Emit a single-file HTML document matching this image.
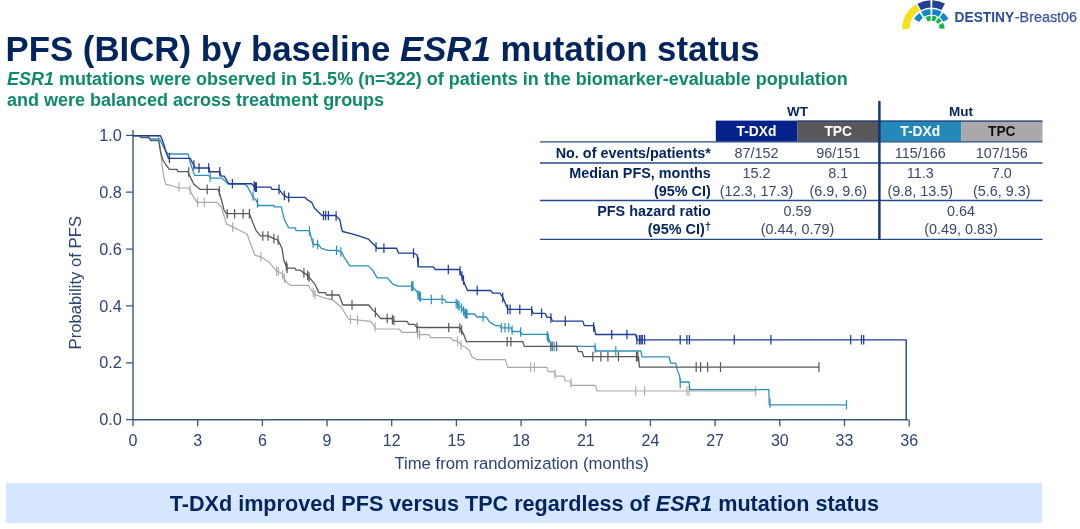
<!DOCTYPE html>
<html><head><meta charset="utf-8">
<style>
html,body{margin:0;padding:0;background:#fff;}
body{width:1080px;height:529px;position:relative;overflow:hidden;font-family:"Liberation Sans",Arial,sans-serif;}
#title{position:absolute;left:5.5px;top:29px;font-size:34.8px;font-weight:bold;color:#04245e;white-space:nowrap;line-height:40px;}
#sub{position:absolute;left:7px;top:69px;font-size:18px;font-weight:bold;color:#0e8a6c;white-space:nowrap;line-height:20.5px;}
#banner{position:absolute;left:6.3px;top:482.6px;width:1036.2px;height:40.6px;background:#d5e6fe;}
#bannertxt{position:absolute;left:6.3px;top:483.4px;width:1036.2px;height:41px;line-height:41px;text-align:center;font-size:21.6px;font-weight:bold;color:#04245e;white-space:nowrap;}
svg{position:absolute;left:0;top:0;font-family:"Liberation Sans",Arial,sans-serif;}
</style></head><body>
<div id="title">PFS (BICR) by baseline <i>ESR1</i> mutation status</div>
<div id="sub"><i>ESR1</i> mutations were observed in 51.5% (n=322) of patients in the biomarker-evaluable population<br>and were balanced across treatment groups</div>
<div id="banner"></div>
<div id="bannertxt">T-DXd improved PFS versus TPC regardless of <i>ESR1</i> mutation status</div>
<svg id="chart" width="1080" height="529" viewBox="0 0 1080 529">
<g id="logo">
<path d="M902.20 29.00A29.20 29.20 0 0 1 915.93 4.24L919.74 10.34A22.00 22.00 0 0 0 909.40 29.00Z" fill="#f7de1a"/>
<path d="M917.44 3.81A28.80 28.80 0 0 1 930.39 0.22L930.65 7.61A21.40 21.40 0 0 0 921.03 10.28ZM932.41 0.22A28.80 28.80 0 0 1 944.92 3.57L941.45 10.10A21.40 21.40 0 0 0 932.15 7.61Z" fill="#233f96"/>
<path d="M914.08 19.00A20.00 20.00 0 0 1 919.36 13.03L922.85 17.66A14.20 14.20 0 0 0 919.10 21.90ZM921.10 11.86A20.00 20.00 0 0 1 930.35 9.03L930.66 14.82A14.20 14.20 0 0 0 924.09 16.83ZM932.45 9.03A20.00 20.00 0 0 1 941.70 11.86L938.71 16.83A14.20 14.20 0 0 0 932.14 14.82ZM943.16 12.82A20.00 20.00 0 0 1 948.54 18.70L943.57 21.69A14.20 14.20 0 0 0 939.75 17.51Z" fill="#1186c8"/>
<path d="M925.61 17.14A13.20 13.20 0 0 1 930.48 15.83L930.83 20.82A8.20 8.20 0 0 0 927.81 21.63ZM932.32 15.83A13.20 13.20 0 0 1 936.77 16.94L934.74 21.51A8.20 8.20 0 0 0 931.97 20.82ZM938.39 17.81A13.20 13.20 0 0 1 941.80 20.87L937.86 23.95A8.20 8.20 0 0 0 935.75 22.05ZM943.05 22.80A13.20 13.20 0 0 1 944.59 28.54L939.60 28.71A8.20 8.20 0 0 0 938.64 25.15Z" fill="#16b24b"/>
<text x="954.6" y="22" font-size="14.6" font-weight="bold" fill="#2a4a9c" textLength="59.6" lengthAdjust="spacingAndGlyphs">DESTINY</text>
<text x="1014.8" y="22" font-size="14.6" fill="#3a55a0" stroke="#3a55a0" stroke-width="0.25" textLength="62.3" lengthAdjust="spacingAndGlyphs">-Breast06</text>
</g>
<g id="table">
<rect x="715.8" y="120.6" width="81.4" height="21" fill="#05228a"/>
<rect x="797.2" y="120.6" width="82" height="21" fill="#58585a"/>
<rect x="879.2" y="120.6" width="82" height="21" fill="#2688b9"/>
<rect x="961.2" y="120.6" width="81.3" height="21" fill="#a9a9a9"/>
<path d="M797.2 121.2H1042.5" stroke="#1f3f7a" stroke-width="1.2" fill="none"/>
<path d="M540 141.9H1042.5M540 163H1042.5M540 200.5H1042.5M540 239.3H1042.5" stroke="#274a86" stroke-width="1.3" fill="none"/>
<path d="M879.4 101V240" stroke="#14306e" stroke-width="2.4" fill="none"/>
<text x="797.5" y="116.3" font-size="13.5" text-anchor="middle" font-weight="bold" fill="#04245e">WT</text>
<text x="961.0" y="116.3" font-size="13.5" text-anchor="middle" font-weight="bold" fill="#04245e">Mut</text>
<text x="756.5" y="136.3" font-size="13.8" text-anchor="middle" font-weight="bold" fill="#fff">T-DXd</text>
<text x="838.2" y="136.3" font-size="13.8" text-anchor="middle" font-weight="bold" fill="#fff">TPC</text>
<text x="920.3" y="136.3" font-size="13.8" text-anchor="middle" font-weight="bold" fill="#fff">T-DXd</text>
<text x="1001.8" y="136.3" font-size="13.8" text-anchor="middle" font-weight="bold" fill="#111">TPC</text>
<text x="710.8" y="158.0" font-size="14.4" text-anchor="end" font-weight="bold" fill="#04245e">No. of events/patients*</text>
<text x="710.8" y="178.0" font-size="14.4" text-anchor="end" font-weight="bold" fill="#04245e">Median PFS, months</text>
<text x="710.8" y="195.7" font-size="14.4" text-anchor="end" font-weight="bold" fill="#04245e">(95% CI)</text>
<text x="710.8" y="216.4" font-size="14.4" text-anchor="end" font-weight="bold" fill="#04245e">PFS hazard ratio</text>
<text x="711.2" y="233.8" font-size="14.45" text-anchor="end" font-weight="bold" fill="#04245e">(95% CI)<tspan font-size="11.5" dy="-3.6">†</tspan></text>
<text x="756.5" y="158.0" font-size="14.4" text-anchor="middle" fill="#3b4a66">87/152</text>
<text x="756.5" y="178.0" font-size="14.4" text-anchor="middle" fill="#3b4a66">15.2</text>
<text x="756.5" y="195.7" font-size="14.4" text-anchor="middle" fill="#3b4a66">(12.3, 17.3)</text>
<text x="838.2" y="158.0" font-size="14.4" text-anchor="middle" fill="#3b4a66">96/151</text>
<text x="838.2" y="178.0" font-size="14.4" text-anchor="middle" fill="#3b4a66">8.1</text>
<text x="838.2" y="195.7" font-size="14.4" text-anchor="middle" fill="#3b4a66">(6.9, 9.6)</text>
<text x="920.3" y="158.0" font-size="14.4" text-anchor="middle" fill="#3b4a66">115/166</text>
<text x="920.3" y="178.0" font-size="14.4" text-anchor="middle" fill="#3b4a66">11.3</text>
<text x="920.3" y="195.7" font-size="14.4" text-anchor="middle" fill="#3b4a66">(9.8, 13.5)</text>
<text x="1001.8" y="158.0" font-size="14.4" text-anchor="middle" fill="#3b4a66">107/156</text>
<text x="1001.8" y="178.0" font-size="14.4" text-anchor="middle" fill="#3b4a66">7.0</text>
<text x="1001.8" y="195.7" font-size="14.4" text-anchor="middle" fill="#3b4a66">(5.6, 9.3)</text>
<text x="797.5" y="216.4" font-size="14.4" text-anchor="middle" fill="#3b4a66">0.59</text>
<text x="797.5" y="233.8" font-size="14.4" text-anchor="middle" fill="#3b4a66">(0.44, 0.79)</text>
<text x="961.0" y="216.4" font-size="14.4" text-anchor="middle" fill="#3b4a66">0.64</text>
<text x="961.0" y="233.8" font-size="14.4" text-anchor="middle" fill="#3b4a66">(0.49, 0.83)</text>
</g>
<g id="axes">
<path d="M133.0 130V419.7H908.3" fill="none" stroke="#3b5585" stroke-width="1.4"/>
<path d="M126 419.7H133.0M126 362.8H133.0M126 305.9H133.0M126 249.1H133.0M126 192.2H133.0M126 135.3H133.0M133.0 419.7V426.3M197.7 419.7V426.3M262.4 419.7V426.3M327.0 419.7V426.3M391.7 419.7V426.3M456.4 419.7V426.3M521.1 419.7V426.3M585.8 419.7V426.3M650.4 419.7V426.3M715.1 419.7V426.3M779.8 419.7V426.3M844.5 419.7V426.3M909.2 419.7V426.3" fill="none" stroke="#3b5585" stroke-width="1.3"/>
<text x="121.8" y="425.3" font-size="16.3" text-anchor="end" fill="#2c4474">0.0</text>
<text x="121.8" y="368.4" font-size="16.3" text-anchor="end" fill="#2c4474">0.2</text>
<text x="121.8" y="311.5" font-size="16.3" text-anchor="end" fill="#2c4474">0.4</text>
<text x="121.8" y="254.7" font-size="16.3" text-anchor="end" fill="#2c4474">0.6</text>
<text x="121.8" y="197.8" font-size="16.3" text-anchor="end" fill="#2c4474">0.8</text>
<text x="121.8" y="140.9" font-size="16.3" text-anchor="end" fill="#2c4474">1.0</text>
<text x="133.0" y="446" font-size="16" text-anchor="middle" fill="#2c4474">0</text>
<text x="197.7" y="446" font-size="16" text-anchor="middle" fill="#2c4474">3</text>
<text x="262.4" y="446" font-size="16" text-anchor="middle" fill="#2c4474">6</text>
<text x="327.0" y="446" font-size="16" text-anchor="middle" fill="#2c4474">9</text>
<text x="391.7" y="446" font-size="16" text-anchor="middle" fill="#2c4474">12</text>
<text x="456.4" y="446" font-size="16" text-anchor="middle" fill="#2c4474">15</text>
<text x="521.1" y="446" font-size="16" text-anchor="middle" fill="#2c4474">18</text>
<text x="585.8" y="446" font-size="16" text-anchor="middle" fill="#2c4474">21</text>
<text x="650.4" y="446" font-size="16" text-anchor="middle" fill="#2c4474">24</text>
<text x="715.1" y="446" font-size="16" text-anchor="middle" fill="#2c4474">27</text>
<text x="779.8" y="446" font-size="16" text-anchor="middle" fill="#2c4474">30</text>
<text x="844.5" y="446" font-size="16" text-anchor="middle" fill="#2c4474">33</text>
<text x="909.2" y="446" font-size="16" text-anchor="middle" fill="#2c4474">36</text>
<text x="521.6" y="468.9" font-size="16.7" text-anchor="middle" fill="#2c4474">Time from randomization (months)</text>
<text transform="translate(81,282.7) rotate(-90)" font-size="16.7" text-anchor="middle" fill="#2c4474">Probability of PFS</text>
</g>
<g id="curves">
<path d="M133.0 135.7H158.3L160.5 150.0L162.0 165.0L164.0 178.0L165.7 184.3L172.4 185.7L178.3 188.0H188.7L193.9 197.6L197.0 202.3H216.9L221.3 206.9L226.5 223.9L232.4 226.9L242.8 232.0L247.2 234.3L249.1 239.8L255.0 255.4L260.9 256.9L269.1 262.0L275.0 269.4L282.4 273.9L286.1 282.0L290.6 285.3H308.3L311.3 290.2L315.0 294.6L322.4 297.3L332.4 299.8L341.3 307.2L348.7 319.1L356.9 319.8L370.9 321.3L376.1 329.0H399.1L402.0 332.4H416.9L419.1 334.6H428.7L430.9 337.6H450.9L453.1 340.6H457.0L462.0 345.7L466.0 347.5L469.4 350.5L471.7 356.5L476.9 359.7H505.4L507.6 367.4H546.9L548.3 371.7H554.3L555.7 376.1H563.9L565.4 381.0H570.6L571.3 385.3H595.7L596.9 391.0H755.7" fill="none" stroke="#a9a9a9" stroke-width="1.20" stroke-linejoin="round"/>
<path d="M179.0 182.2v9.6M190.2 185.2v9.6M197.6 197.5v9.6M204.3 197.5v9.6M232.7 222.2v9.6M260.9 252.2v9.6M276.5 266.2v9.6M278.3 266.7v9.6M282.7 270.2v9.6M284.5 273.2v9.6M313.2 287.2v9.6M315.0 289.8v9.6M350.5 314.7v9.6M357.6 315.2v9.6M375.1 322.2v9.6M417.6 328.2v9.6M419.5 329.8v9.6M457.6 336.2v9.6M461.0 340.2v9.6M530.6 362.6v9.6M534.3 362.6v9.6M555.0 369.2v9.6M571.0 378.2v9.6M635.7 386.2v9.6M644.6 386.2v9.6M686.9 386.2v9.6M689.1 386.2v9.6M755.7 386.2v9.6" fill="none" stroke="#a9a9a9" stroke-width="1.10"/>
<path d="M133.0 135.7H147.2L150.2 139.0H159.8L163.0 146.0L166.0 151.0L168.0 154.0H188.0L191.0 165.0L194.6 175.4H208.7L210.9 178.2H222.0L227.2 183.1L228.5 184.2H244.3L247.2 186.1L253.1 197.2L256.1 200.2L258.3 205.5H273.9L274.5 206.9H281.3L284.3 219.4L288.7 227.8H295.4L296.0 230.6H309.4L313.1 244.5H318.3L321.3 248.3L328.3 250.3H337.2L341.7 252.4L343.9 256.9L349.8 265.9H368.3L372.0 269.4L377.2 277.8H387.6L389.8 280.8L392.8 284.0L398.0 286.1H412.0L416.5 291.3L420.9 299.4H444.6L446.1 302.4H455.7L462.4 309.1L465.0 314.0H474.6L476.9 317.0H486.5L489.4 321.9L495.4 325.7H499.8L501.0 327.8H510.9L512.4 331.5H520.6L522.0 334.4H547.2L551.7 346.4H595.0L596.0 351.0H640.9L642.0 356.9H669.1L670.6 363.2H675.7L677.2 369.4L679.4 375.4L680.5 382.0H689.1L689.8 389.6H768.8L769.3 404.8H846.5" fill="none" stroke="#2c90be" stroke-width="1.30" stroke-linejoin="round"/>
<path d="M210.2 172.2v9.6M253.1 191.2v9.6M257.6 198.2v9.6M309.4 226.2v9.6M313.1 238.2v9.6M317.6 239.7v9.6M336.5 245.5v9.6M340.9 247.2v9.6M411.7 281.3v9.6M412.9 281.3v9.6M418.0 290.2v9.6M419.4 291.2v9.6M420.6 292.2v9.6M431.3 294.7v9.6M442.1 294.7v9.6M456.2 298.7v9.6M457.7 299.7v9.6M459.1 301.2v9.6M461.5 303.2v9.6M463.5 306.2v9.6M465.0 308.2v9.6M466.0 309.2v9.6M467.0 309.2v9.6M483.1 312.2v9.6M501.3 323.0v9.6M505.0 323.0v9.6M508.7 323.0v9.6M512.1 325.2v9.6M520.6 327.2v9.6M547.2 331.2v9.6M548.3 333.2v9.6M552.4 341.6v9.6M554.2 341.6v9.6M595.1 343.2v9.6M615.8 346.2v9.6M680.2 378.7v9.6M770.0 398.2v9.6M846.5 400.0v9.6" fill="none" stroke="#2c90be" stroke-width="1.20"/>
<path d="M133.0 135.7H139.8L140.5 137.6H149.4L150.5 140.6H158.8L160.5 152.0L163.0 160.0L166.0 165.0L169.4 169.4H176.9L178.0 171.7H188.0L190.2 176.9L193.9 184.3L199.8 189.3H218.3L221.5 200.0L224.0 210.0L226.5 213.7H249.4L253.0 223.0L256.1 230.6L260.6 235.9H268.0L273.9 238.7L278.0 240.0L282.1 248.7L283.9 260.6L287.1 268.2H295.0L296.0 270.2H300.2L303.1 272.4L307.6 275.4L315.0 284.3L318.7 292.6H325.4L326.5 295.0H339.1L342.8 305.0H368.7L371.7 308.7L375.4 312.4L380.6 318.5H391.7L393.9 321.3H407.2L408.7 324.3H414.6L416.9 327.5H459.8L463.5 333.9L466.5 341.7H522.8L524.3 346.4H576.7L578.2 351.6H582.2L583.6 356.6H638.5L639.4 367.1H819.0" fill="none" stroke="#585858" stroke-width="1.30" stroke-linejoin="round"/>
<path d="M188.7 167.2v9.6M207.2 184.6v9.6M219.4 186.2v9.6M227.2 208.9v9.6M234.6 208.9v9.6M243.1 208.9v9.6M249.4 208.9v9.6M262.8 231.2v9.6M268.0 231.2v9.6M273.9 233.9v9.6M278.0 235.2v9.6M287.1 263.4v9.6M286.3 261.2v9.6M303.9 268.2v9.6M307.6 270.6v9.6M309.1 272.2v9.6M332.0 290.2v9.6M352.0 300.2v9.6M375.4 307.6v9.6M387.2 313.7v9.6M392.4 314.7v9.6M393.9 315.7v9.6M417.1 322.7v9.6M448.7 322.7v9.6M459.8 323.2v9.6M461.6 325.2v9.6M507.2 336.9v9.6M510.9 336.9v9.6M550.9 341.6v9.6M556.6 341.6v9.6M592.8 351.8v9.6M600.9 351.8v9.6M607.9 351.8v9.6M618.5 351.8v9.6M636.5 351.8v9.6M637.8 351.8v9.6M696.2 362.3v9.6M700.6 362.3v9.6M707.6 362.3v9.6M720.5 362.3v9.6M819.0 362.3v9.6" fill="none" stroke="#585858" stroke-width="1.20"/>
<path d="M133.0 135.7H160.5L162.0 139.0L164.0 145.0L166.0 152.0L168.5 158.3H190.2L192.5 163.0L195.4 168.0H209.4L209.4 171.7H219.8L221.3 176.1H224.3L227.2 181.3L228.7 183.7H251.7L254.6 187.1H270.9L272.0 189.4H279.1L282.8 194.3L287.2 197.4H305.0L308.0 200.2L311.7 202.4L314.6 208.3L318.3 212.0L322.0 215.5H335.4L339.8 219.4L341.5 228.0L342.5 231.5L352.0 233.9L359.4 236.1L368.3 239.1L373.5 244.3L377.2 248.2H396.5L398.7 253.1H413.5L417.2 255.0L418.3 266.9H433.5L435.0 269.5H459.4L464.6 283.9L467.6 290.5H490.6L492.8 293.1H499.8L502.8 297.4L508.0 309.4H531.7L533.1 313.3H545.0L547.2 317.4H550.9L552.4 321.1H582.8L584.3 325.6H593.9L595.7 334.5H635.7L636.9 339.8H906.2L906.2 420.0" fill="none" stroke="#1f3d99" stroke-width="1.35" stroke-linejoin="round"/>
<path d="M169.4 153.5v9.6M193.9 160.2v9.6M199.0 163.2v9.6M208.7 163.2v9.6M219.8 166.9v9.6M232.4 178.9v9.6M254.2 181.2v9.6M255.4 182.3v9.6M256.4 182.3v9.6M279.0 184.6v9.6M284.3 190.7v9.6M288.7 192.6v9.6M323.5 210.7v9.6M325.7 210.7v9.6M328.4 210.7v9.6M336.1 211.2v9.6M376.0 242.2v9.6M383.9 243.4v9.6M413.5 248.3v9.6M418.3 257.2v9.6M448.3 264.7v9.6M460.0 266.2v9.6M462.0 271.2v9.6M463.5 275.2v9.6M477.2 285.7v9.6M502.7 292.6v9.6M507.6 304.6v9.6M510.1 304.6v9.6M519.8 304.6v9.6M531.7 306.2v9.6M541.6 308.5v9.6M550.9 313.2v9.6M565.3 316.3v9.6M593.6 322.2v9.6M611.7 329.7v9.6M626.9 329.7v9.6M636.9 335.0v9.6M639.4 335.0v9.6M640.9 335.0v9.6M642.4 335.0v9.6M644.6 335.0v9.6M680.2 335.0v9.6M686.9 335.0v9.6M689.4 335.0v9.6M734.3 335.0v9.6M770.9 335.0v9.6M850.7 335.0v9.6M861.5 335.0v9.6M863.7 335.0v9.6" fill="none" stroke="#1f3d99" stroke-width="1.25"/>
</g>
</svg>
</body></html>
